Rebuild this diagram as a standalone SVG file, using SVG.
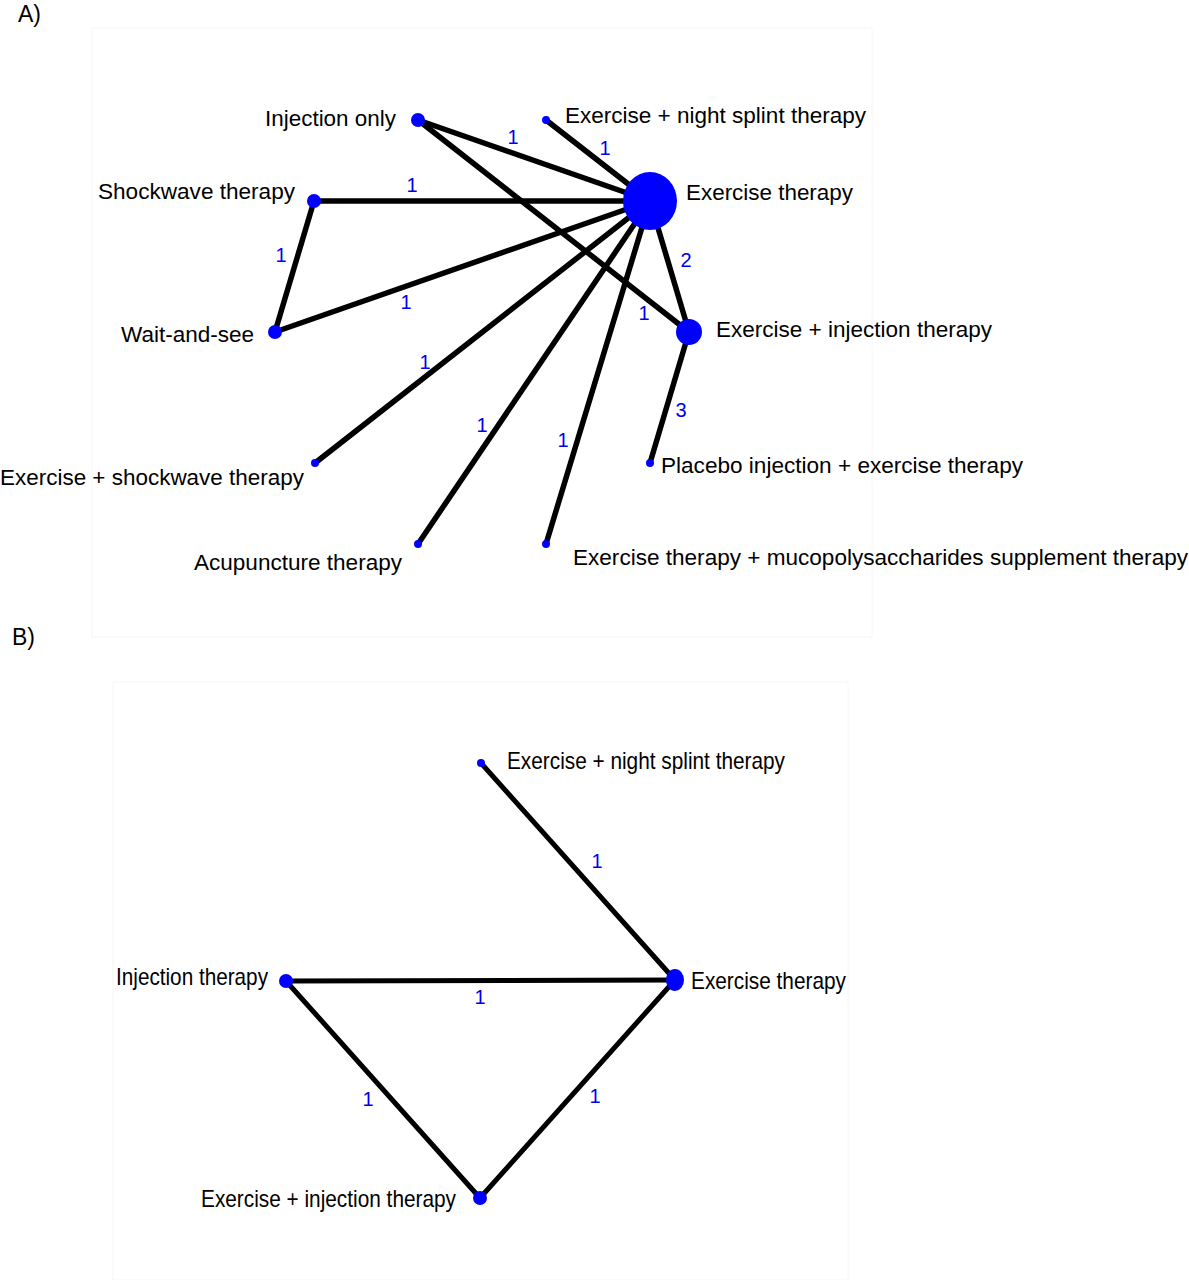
<svg xmlns="http://www.w3.org/2000/svg" width="1189" height="1280" viewBox="0 0 1189 1280">
<style>
.lbl{font-family:"Liberation Sans",Arial,sans-serif;font-size:22px;fill:#000}
.lblb{font-family:"Liberation Sans",Arial,sans-serif;font-size:24px;fill:#000}
.num{font-family:"Liberation Sans",Arial,sans-serif;font-size:20px;fill:#0000ee;text-anchor:middle}
.panel{font-family:"Liberation Sans",Arial,sans-serif;font-size:23px;fill:#000}
.edge{stroke:#000;stroke-width:5.5;stroke-linecap:round;fill:none}
.edgeb{stroke:#000;stroke-width:5;stroke-linecap:round;fill:none}
.node{fill:#0000ff}
.frame{fill:none;stroke:#f6f6f6;stroke-width:1}
</style>
<rect width="1189" height="1280" fill="#fff"/>
<rect class="frame" x="92" y="28" width="780" height="609"/>
<rect class="frame" x="113" y="682" width="735" height="598"/>
<text class="panel" x="18" y="22">A)</text>
<text class="panel" x="12" y="645">B)</text>

<g id="connectors">
  <g id="edges-a">
    <line class="edge" x1="418" y1="120" x2="650" y2="201"/>
    <line class="edge" x1="418" y1="120" x2="689" y2="332"/>
    <line class="edge" x1="546" y1="120" x2="650" y2="201"/>
    <line class="edge" x1="314" y1="201" x2="650" y2="201"/>
    <line class="edge" x1="314" y1="201" x2="275" y2="332"/>
    <line class="edge" x1="275" y1="332" x2="650" y2="201"/>
    <line class="edge" x1="315" y1="463" x2="650" y2="201"/>
    <line class="edge" x1="418" y1="544" x2="650" y2="201"/>
    <line class="edge" x1="546" y1="544" x2="650" y2="201"/>
    <line class="edge" x1="650" y1="201" x2="689" y2="332"/>
    <line class="edge" x1="689" y1="332" x2="650" y2="463"/>
    <text class="num" x="513" y="144">1</text>
    <text class="num" x="644" y="320">1</text>
    <text class="num" x="605" y="155">1</text>
    <text class="num" x="412" y="192">1</text>
    <text class="num" x="281" y="262">1</text>
    <text class="num" x="406" y="309">1</text>
    <text class="num" x="425" y="369">1</text>
    <text class="num" x="482" y="432">1</text>
    <text class="num" x="563" y="447">1</text>
    <text class="num" x="686" y="267">2</text>
    <text class="num" x="681" y="417">3</text>
  </g>
  <g id="edges-b">
    <line class="edgeb" x1="481" y1="763" x2="675" y2="980"/>
    <line class="edgeb" x1="286" y1="981" x2="675" y2="980"/>
    <line class="edgeb" x1="286" y1="981" x2="480" y2="1198"/>
    <line class="edgeb" x1="480" y1="1198" x2="675" y2="980"/>
    <text class="num" x="597" y="868">1</text>
    <text class="num" x="480" y="1004">1</text>
    <text class="num" x="368" y="1106">1</text>
    <text class="num" x="595" y="1103">1</text>
  </g>
</g>

<g id="node-a-injection-only">
  <circle class="node" cx="418" cy="120" r="7"/>
  <text class="lbl" x="265" y="126" textLength="131" lengthAdjust="spacingAndGlyphs">Injection only</text>
</g>
<g id="node-a-night-splint">
  <circle class="node" cx="546" cy="120" r="4"/>
  <text class="lbl" x="565" y="123" textLength="301" lengthAdjust="spacingAndGlyphs">Exercise + night splint therapy</text>
</g>
<g id="node-a-shockwave">
  <circle class="node" cx="314" cy="201" r="7"/>
  <text class="lbl" x="98" y="199" textLength="197" lengthAdjust="spacingAndGlyphs">Shockwave therapy</text>
</g>
<g id="node-a-exercise">
  <ellipse class="node" cx="650" cy="201" rx="27" ry="29"/>
  <text class="lbl" x="686" y="200" textLength="167" lengthAdjust="spacingAndGlyphs">Exercise therapy</text>
</g>
<g id="node-a-wait">
  <circle class="node" cx="275" cy="332" r="7"/>
  <text class="lbl" x="121" y="342" textLength="133" lengthAdjust="spacingAndGlyphs">Wait-and-see</text>
</g>
<g id="node-a-exercise-injection">
  <circle class="node" cx="689" cy="332" r="13"/>
  <text class="lbl" x="716" y="337" textLength="276" lengthAdjust="spacingAndGlyphs">Exercise + injection therapy</text>
</g>
<g id="node-a-exercise-shockwave">
  <circle class="node" cx="315" cy="463" r="4"/>
  <text class="lbl" x="0" y="485" textLength="304" lengthAdjust="spacingAndGlyphs">Exercise + shockwave therapy</text>
</g>
<g id="node-a-placebo">
  <circle class="node" cx="650" cy="463" r="4"/>
  <text class="lbl" x="661" y="473" textLength="362" lengthAdjust="spacingAndGlyphs">Placebo injection + exercise therapy</text>
</g>
<g id="node-a-acupuncture">
  <circle class="node" cx="418" cy="544" r="4"/>
  <text class="lbl" x="194" y="570" textLength="208" lengthAdjust="spacingAndGlyphs">Acupuncture therapy</text>
</g>
<g id="node-a-mucopoly">
  <circle class="node" cx="546" cy="544" r="4"/>
  <text class="lbl" x="573" y="565" textLength="615" lengthAdjust="spacingAndGlyphs">Exercise therapy + mucopolysaccharides supplement therapy</text>
</g>

<g id="node-b-night-splint">
  <circle class="node" cx="481" cy="763" r="4"/>
  <text class="lblb" x="507" y="769" textLength="278" lengthAdjust="spacingAndGlyphs">Exercise + night splint therapy</text>
</g>
<g id="node-b-injection">
  <circle class="node" cx="286" cy="981" r="7"/>
  <text class="lblb" x="116" y="985" textLength="152" lengthAdjust="spacingAndGlyphs">Injection therapy</text>
</g>
<g id="node-b-exercise">
  <ellipse class="node" cx="675" cy="980" rx="9" ry="11"/>
  <text class="lblb" x="691" y="989" textLength="155" lengthAdjust="spacingAndGlyphs">Exercise therapy</text>
</g>
<g id="node-b-exercise-injection">
  <circle class="node" cx="480" cy="1198" r="7"/>
  <text class="lblb" x="201" y="1207" textLength="255" lengthAdjust="spacingAndGlyphs">Exercise + injection therapy</text>
</g>
</svg>
